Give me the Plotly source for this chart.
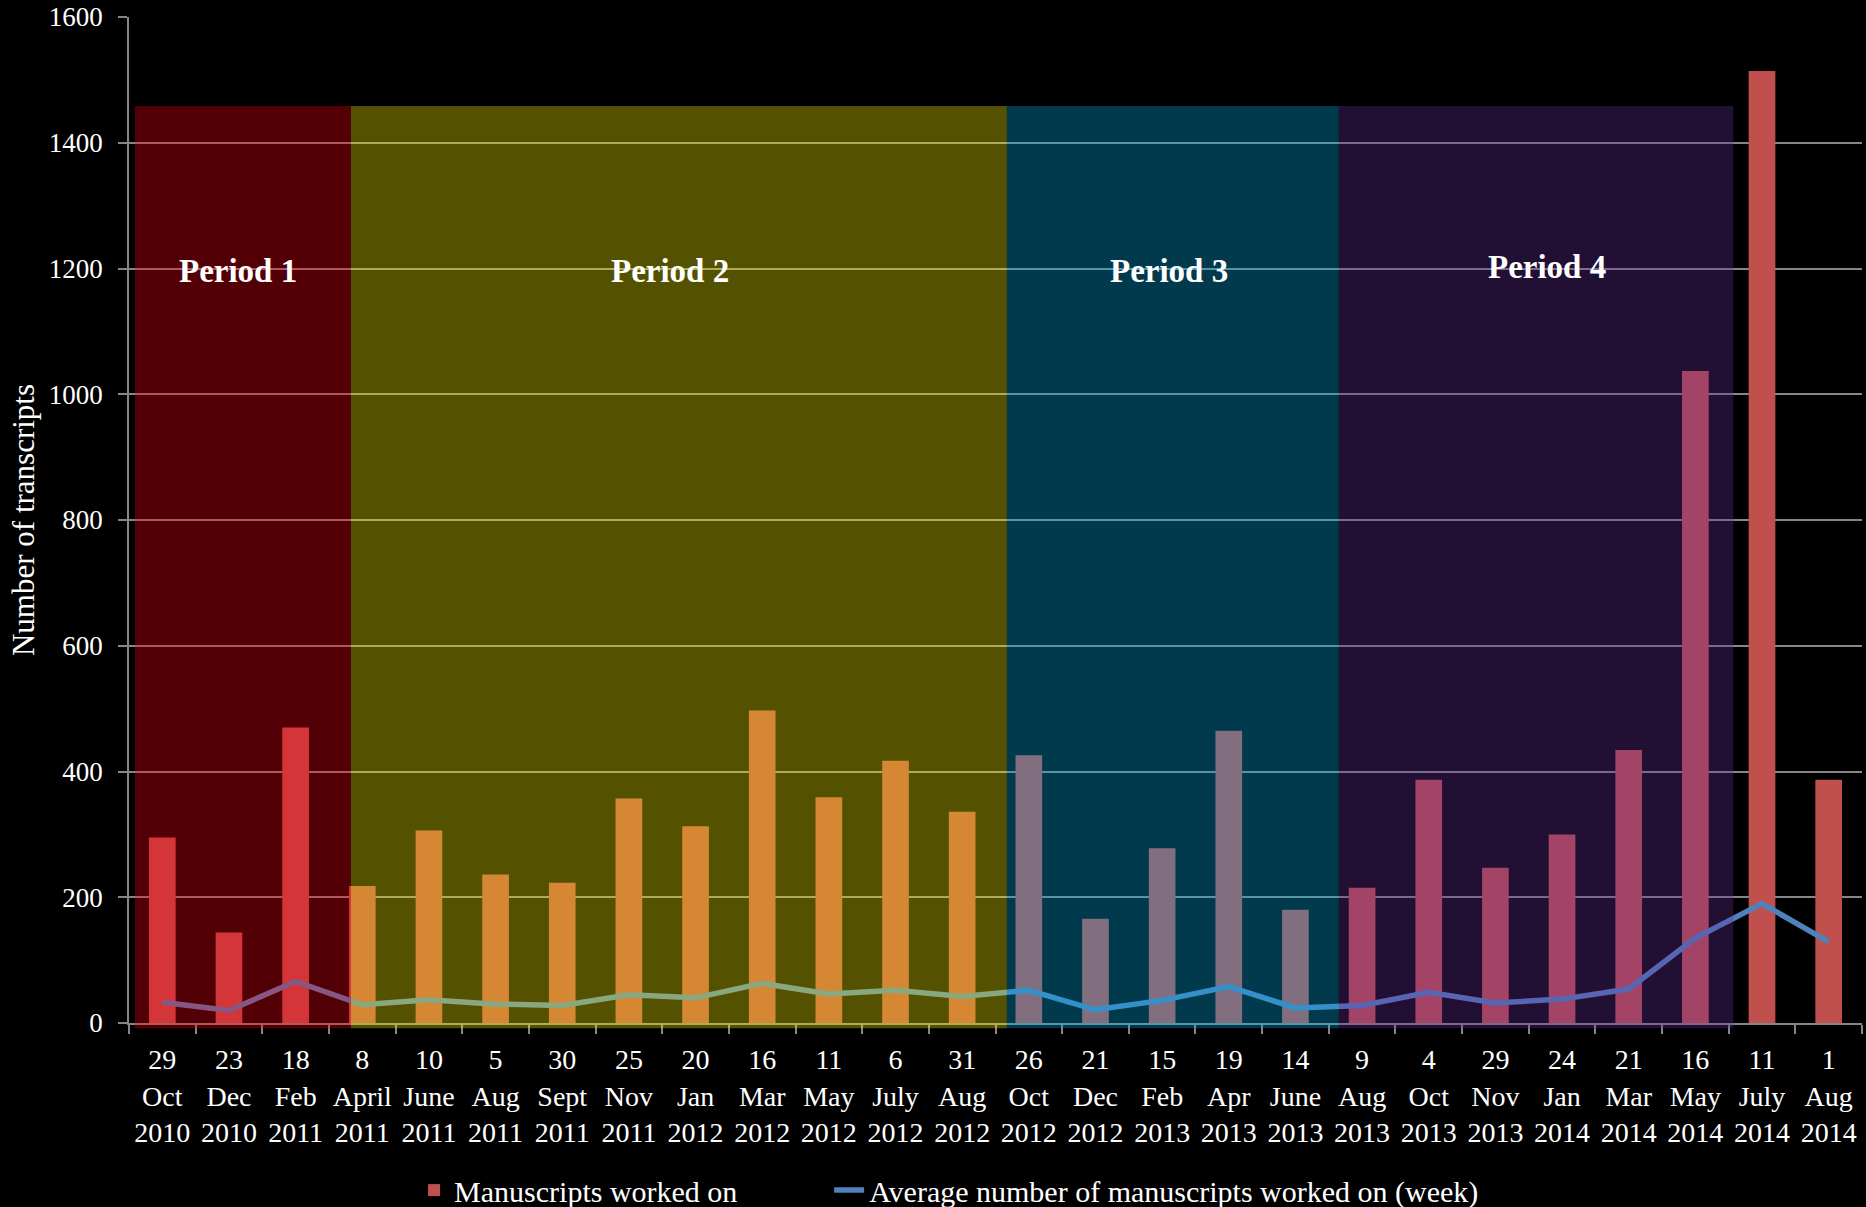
import plotly.graph_objects as go

days = ["29", "23", "18", "8", "10", "5", "30", "25", "20", "16", "11", "6", "31",
        "26", "21", "15", "19", "14", "9", "4", "29", "24", "21", "16", "11", "1"]
months = ["Oct", "Dec", "Feb", "April", "June", "Aug", "Sept", "Nov", "Jan", "Mar", "May", "July", "Aug",
          "Oct", "Dec", "Feb", "Apr", "June", "Aug", "Oct", "Nov", "Jan", "Mar", "May", "July", "Aug"]
years = ["2010", "2010", "2011", "2011", "2011", "2011", "2011", "2011", "2012", "2012", "2012", "2012", "2012",
         "2012", "2012", "2013", "2013", "2013", "2013", "2013", "2013", "2014", "2014", "2014", "2014", "2014"]
categories = [f"{d}<br>{m}<br>{y}" for d, m, y in zip(days, months, years)]

manuscripts = [295, 144, 470, 218, 306, 236, 223, 357, 313, 497, 359, 417, 336,
               426, 166, 278, 465, 180, 215, 387, 247, 300, 434, 1037, 1514, 387]
average_week = [33, 20, 66, 29, 37, 30, 28, 45, 40, 63, 46, 52, 42,
                52, 21, 36, 58, 24, 28, 49, 32, 38, 54, 135, 190, 129]

period_labels = ["Period 1", "Period 2", "Period 3", "Period 4"]
period_spans = [(-0.41, 2.83), (2.83, 12.67), (12.67, 17.65), (17.65, 23.57)]
period_fills = ["rgba(250,0,15,0.33)", "rgba(255,250,0,0.33)",
                "rgba(0,176,230,0.33)", "rgba(103,45,158,0.33)"]
period_label_pos = [(1.14, 1196), (7.62, 1196), (15.11, 1196), (20.77, 1203)]

FONT = "Liberation Serif"
GRID = "#868686"

fig = go.Figure()
fig.add_trace(go.Bar(
    x=categories, y=manuscripts, name="Manuscripts worked on",
    marker=dict(color="#C0504D", line=dict(width=0)), legend="legend",
))
fig.add_trace(go.Scatter(
    x=categories, y=average_week, name="Average number of manuscripts worked on (week)",
    mode="lines", line=dict(color="#4F81BD", width=5.5), legend="legend2",
))

top_paper = 1458.6 / 1600
for (x0, x1), col in zip(period_spans, period_fills):
    fig.add_shape(type="rect", xref="x", yref="paper", x0=x0, x1=x1,
                  y0=-0.0053, y1=top_paper, fillcolor=col, line=dict(width=0),
                  layer="above")

for lab, (px, py) in zip(period_labels, period_label_pos):
    fig.add_annotation(x=px, y=py, xref="x", yref="y", text=f"<b>{lab}</b>",
                       showarrow=False, font=dict(family=FONT, size=33, color="white"))

legend_common = dict(orientation="h", yref="container", y=0.014, xanchor="left", yanchor="middle",
                     font=dict(family=FONT, size=30, color="white"),
                     bgcolor="rgba(0,0,0,0)")

fig.update_layout(
    width=1866, height=1207,
    paper_bgcolor="black", plot_bgcolor="black",
    margin=dict(l=129, r=4, t=17, b=184, autoexpand=False),
    bargap=0.6,
    font=dict(family=FONT, size=27, color="white"),
    showlegend=True,
    legend=dict(x=0.1645, **legend_common),
    legend2=dict(x=0.404, **legend_common),
)
fig.update_xaxes(
    type="category", range=[-0.5, 25.5], automargin=False,
    showline=True, linecolor=GRID, linewidth=1.5,
    ticks="outside", tickson="boundaries", ticklen=9, tickcolor=GRID, tickwidth=1.5,
    ticklabelstandoff=11, tickangle=0,
    showgrid=False, tickfont=dict(family=FONT, size=28, color="white"),
)
fig.update_yaxes(
    range=[0, 1600], dtick=200, tick0=0, automargin=False,
    showline=True, linecolor=GRID, linewidth=1.5,
    ticks="outside", ticklen=9, tickcolor=GRID, tickwidth=1.5,
    ticklabelstandoff=10,
    showgrid=True, gridcolor=GRID, gridwidth=1.5, zeroline=False,
    tickfont=dict(family=FONT, size=27, color="white"),
    title=dict(text="Number of transcripts", font=dict(family=FONT, size=31, color="white"),
               standoff=5),
)

fig.write_html("out.html", config={"displayModeBar": False},
               post_script="document.body.style.margin='0';document.body.style.overflow='hidden';")
